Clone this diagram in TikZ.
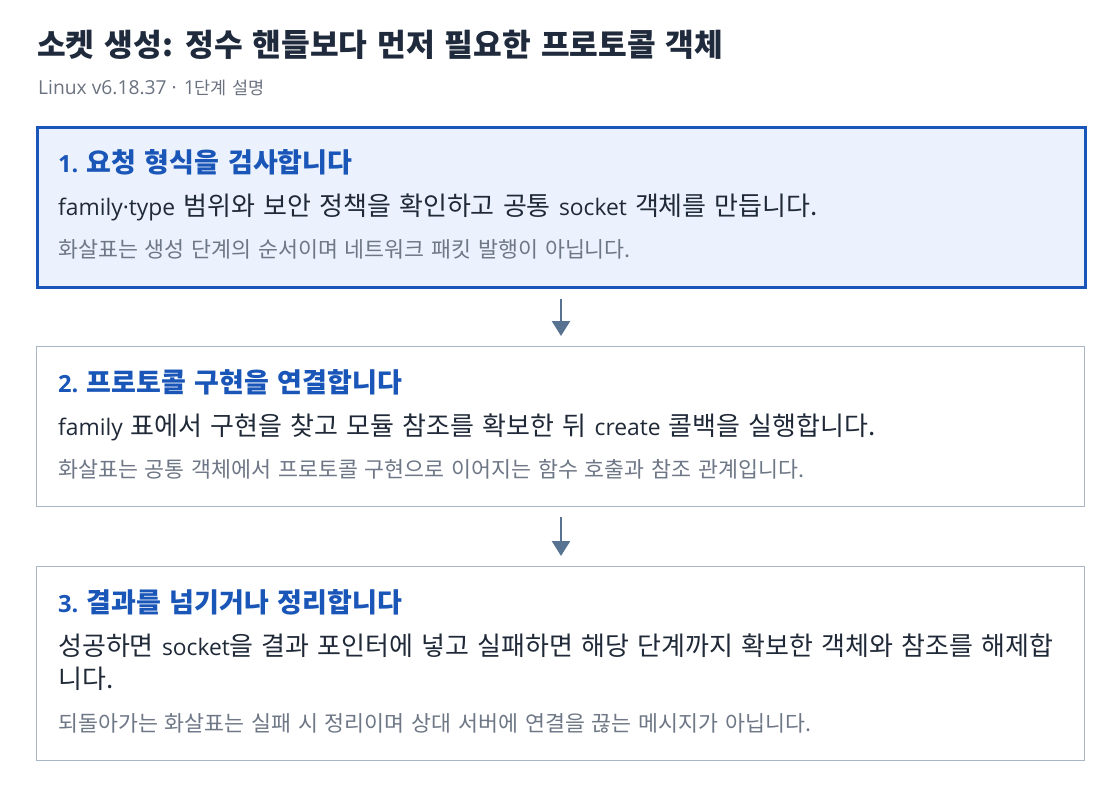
\documentclass[tikz,border=0pt]{standalone}
\usepackage{fontspec}
\setmainfont{Noto Sans CJK KR}[WordSpace=1.4]
\newfontfamily\latfnt{Open Sans}[Scale=0.877]
\newfontfamily\latsubfnt{Open Sans}[Scale=1.1]
\newcommand\latn[1]{{\latfnt #1}}
\newcommand\latsub[1]{{\latsubfnt #1}}
\usetikzlibrary{arrows.meta}
\definecolor{titlec}{HTML}{1F2A3C}
\definecolor{subc}{HTML}{6B7280}
\definecolor{notec}{HTML}{6E7786}
\definecolor{bluec}{HTML}{1A56B8}
\definecolor{bluefill}{HTML}{EBF2FD}
\definecolor{grayb}{HTML}{A9B6C6}
\definecolor{arrowc}{HTML}{587291}
\definecolor{bodyc}{HTML}{1F2937}
\tikzset{
  card/.style={rectangle, draw=grayb, line width=1pt, fill=white, minimum width=1048pt, anchor=north west, inner sep=0pt},
  activecard/.style={card, draw=bluec, line width=3pt, fill=bluefill},
  cardtitle/.style={anchor=base west, inner sep=0pt, text=bluec, font=\fontsize{27}{31}\selectfont\bfseries},
  cardbody/.style={anchor=base west, inner sep=0pt, text=bodyc, font=\fontsize{26}{33}\selectfont, align=left},
  cardnote/.style={anchor=base west, inner sep=0pt, text=notec, font=\fontsize{21.7}{26}\selectfont},
  flow/.style={draw=arrowc, line width=2.5pt, -{Triangle[width=18pt,length=15pt]}, shorten <=10pt, shorten >=10pt}
}
\begin{document}
\begin{tikzpicture}[x=1pt,y=-1pt]
\useasboundingbox (0,0) rectangle (1120,788);
\node[anchor=base west, inner sep=0pt, text=titlec, font=\fontsize{31.2}{36}\selectfont\bfseries] (title) at (37,56) {소켓 생성: 정수 핸들보다 먼저 필요한 프로토콜 객체};
\node[anchor=base west, inner sep=0pt, text=subc, font=\fontsize{17.5}{22}\selectfont] (sub) at (38,94) {\latsub{Linux v6.18.37\hspace{5pt}·\hspace{7pt}1}단계 설명};

\node[activecard, minimum height=160pt] (c1) at (36,126) {};
\node[card, minimum height=160pt] (c2) at (36,346) {};
\node[card, minimum height=194pt] (c3) at (36,566) {};

\node[cardtitle] (t1) at (58,172) {\latn{1. }요청 형식을 검사합니다};
\node[cardbody] (b1) at (58,215) {\latn{family·type} 범위와 보안 정책을 확인하고 공통 \latn{socket} 객체를 만듭니다.};
\node[cardnote] (n1) at (58,257) {화살표는 생성 단계의 순서이며 네트워크 패킷 발행이 아닙니다.};

\node[cardtitle] (t2) at (58,392) {\latn{2. }프로토콜 구현을 연결합니다};
\node[cardbody] (b2) at (58,435) {\latn{family} 표에서 구현을 찾고 모듈 참조를 확보한 뒤 \latn{create} 콜백을 실행합니다.};
\node[cardnote] (n2) at (58,477) {화살표는 공통 객체에서 프로토콜 구현으로 이어지는 함수 호출과 참조 관계입니다.};

\node[cardtitle] (t3) at (58,612) {\latn{3. }결과를 넘기거나 정리합니다};
\node[cardbody] (b3) at (58,688) {성공하면 \latn{socket}을 결과 포인터에 넣고 실패하면 해당 단계까지 확보한 객체와 참조를 해제합\\니다.};
\node[cardnote] (n3) at (58,731) {되돌아가는 화살표는 실패 시 정리이며 상대 서버에 연결을 끊는 메시지가 아닙니다.};

\draw[flow] (c1.south -| 561,0) -- (c2.north -| 561,0);
\draw[flow] (c2.south -| 561,0) -- (c3.north -| 561,0);
\end{tikzpicture}
\end{document}
